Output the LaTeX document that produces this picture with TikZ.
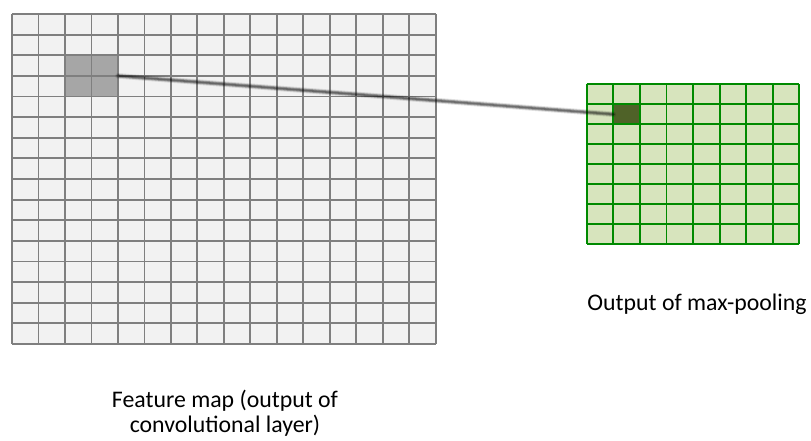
\documentclass[tikz,border=0pt]{standalone}
\usepackage{fontspec}
\setmainfont{Carlito}
\definecolor{cellgray}{HTML}{F2F2F2}
\definecolor{gridgray}{HTML}{7F7F7F}
\definecolor{hlgray}{HTML}{A6A6A6}
\definecolor{poolfill}{HTML}{D7E4BD}
\definecolor{poolline}{HTML}{008A00}
\definecolor{poolhl}{HTML}{4F6228}
\begin{document}
\begin{tikzpicture}[x=1pt,y=-1pt,
  fmline/.style={draw=gridgray,line width=1.8pt},
  plline/.style={draw=poolline,line width=1.8pt},
  cellbox/.style={inner sep=0pt,outer sep=0pt,anchor=north west},
  labeltext/.style={font=\fontsize{23.8}{24.5}\selectfont,align=center,inner sep=0pt},
  softlink/.style={line cap=round}]
\useasboundingbox (0,0) rectangle (811,440);

% feature map: 16 x 16 cells
\def\fx{12}\def\fy{14}\def\fw{26.48}\def\fh{20.625}
\fill[cellgray] (\fx,\fy) rectangle ({\fx+16*\fw},{\fy+16*\fh});
\node[cellbox,fill=hlgray,minimum width={2*\fw pt},minimum height={2*\fh pt}]
  (hl) at ({\fx+2*\fw},{\fy+2*\fh}) {};
\foreach \i in {0,...,16}{
  \draw[fmline] ({\fx+\i*\fw},\fy) -- ({\fx+\i*\fw},{\fy+16*\fh});
  \draw[fmline] (\fx,{\fy+\i*\fh}) -- ({\fx+16*\fw},{\fy+\i*\fh});
}

% pooled output: 8 x 8 cells
\def\px{586.7}\def\py{84.3}\def\pw{26.58}\def\ph{20}
\fill[poolfill] (\px,\py) rectangle ({\px+8*\pw},{\py+8*\ph});
\node[cellbox,fill=poolhl,minimum width={\pw pt},minimum height={\ph pt}]
  (pc) at ({\px+\pw},{\py+\ph}) {};
\foreach \i in {0,...,8}{
  \draw[plline] ({\px+\i*\pw},\py) -- ({\px+\i*\pw},{\py+8*\ph});
  \draw[plline] (\px,{\py+\i*\ph}) -- ({\px+8*\pw},{\py+\i*\ph});
}

% link from pooled region to its output cell
\draw[softlink,black,opacity=0.12,line width=5.5pt] (hl.east) -- (pc.west);
\draw[softlink,black,opacity=0.3,line width=3.5pt] (hl.east) -- (pc.west);
\draw[softlink,black,opacity=0.3,line width=1.6pt] (hl.east) -- (pc.west);

% labels
\node[labeltext,anchor=center] (fmlabel) at (225,413)
  {Feature map (output of\\convolutional layer)};
\node[labeltext,anchor=base] (pllabel) at (697,310.5) {Output of max-pooling};
\end{tikzpicture}
\end{document}
